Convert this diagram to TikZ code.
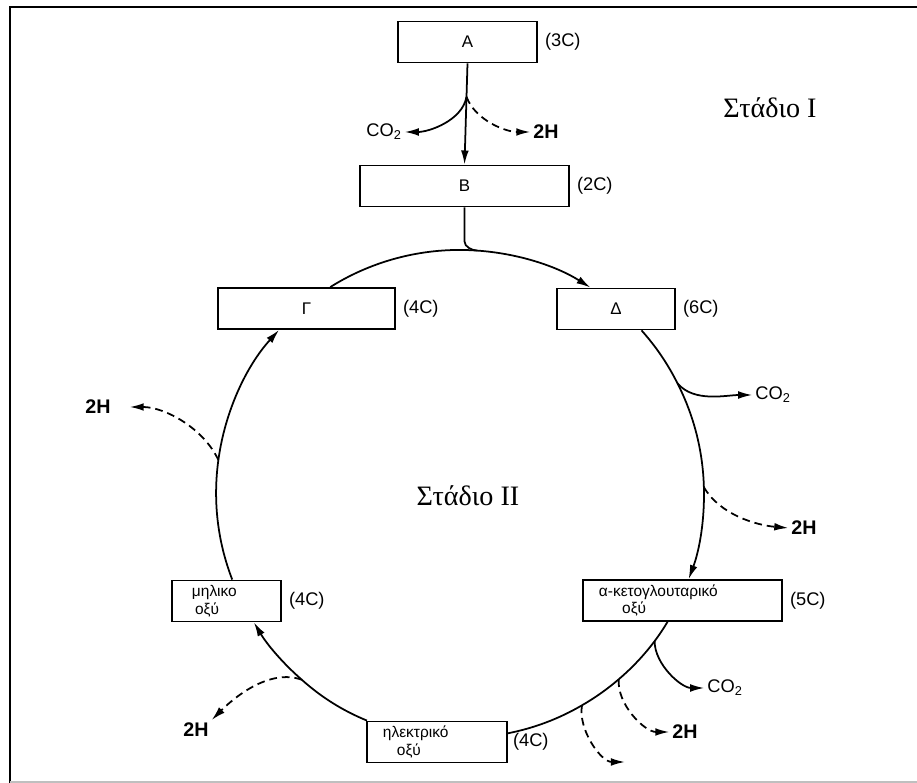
\documentclass[tikz,border=0pt]{standalone}
\usepackage{fontspec}
\setmainfont{Liberation Serif}
\newfontfamily\lsans{Liberation Sans}
\usetikzlibrary{arrows.meta,calc}

\begin{document}
\begin{tikzpicture}[
    x=0.025cm, y=0.025cm,
    box/.style={draw, line width=1.3pt, fill=white, minimum height=1.025cm, inner sep=1pt, font=\lsans\fontsize{12}{14}\selectfont},
    acid/.style={box, align=left, inner xsep=0.4cm, inner ysep=1pt, font=\lsans\fontsize{11}{12.5}\selectfont},
    carb/.style={font=\lsans\fontsize{13}{15}\selectfont, inner sep=2pt},
    prod/.style={font=\lsans\bfseries\fontsize{14}{16}\selectfont, inner sep=2pt},
    stage/.style={font=\fontsize{20}{24}\selectfont},
    flow/.style={line width=1.25pt, looseness=0.87},
    arr/.style={flow, -{Latex[length=10pt,width=5.5pt]}},
    darr/.style={arr, dash pattern=on 5.5pt off 3.5pt}
]
\useasboundingbox (0,0) rectangle (917,783);
\draw[line width=1.4pt] (10,0) -- (10,776) -- (917,776);
\draw[black!25, line width=0.8pt] (10,1) -- (917,1);

\node[box, minimum width=3.475cm] (A) at (467.5,741) {Α};
\node[box, minimum width=5.225cm] (B) at (464.5,597) {Β};
\node[box, minimum width=4.425cm] (G) at (306.5,474.5) {Γ};
\node[box, minimum width=2.95cm] (D) at (616,474) {Δ};
\node[acid, text width=4.175cm] (K) at (682.5,182.5) {α-κετογλουταρικό\\\hspace*{1.5em}οξύ};
\node[acid, text width=1.725cm, inner xsep=0.5cm] (M) at (226.5,182) {μηλικο\\\hspace*{0.2em}οξύ};
\node[acid, text width=2.7cm] (H) at (437,41) {ηλεκτρικό\\\hspace*{0.9em}οξύ};

\node[carb, anchor=west] (nA) at ([xshift=1mm]A.east) {(3C)};
\node[carb, anchor=west] (nB) at ([xshift=1mm]B.east) {(2C)};
\node[carb, anchor=west] (nG) at ([xshift=1mm]G.east) {(4C)};
\node[carb, anchor=west] (nD) at ([xshift=1mm]D.east) {(6C)};
\node[carb, anchor=west] (nK) at ([xshift=1mm]K.east) {(5C)};
\node[carb, anchor=west] (nM) at ([xshift=1mm]M.east) {(4C)};
\node[carb, anchor=west] (nH) at ([xshift=0.5mm]H.east) {(4C)};

\node[stage] (s1) at (770,675) {Στάδιο I};
\node[stage] (s2) at (468,287) {Στάδιο II};

\node[carb] (co2a) at (384,651) {CO\textsubscript{2}};
\node[prod] (h2a) at (546,651) {2H};
\node[carb] (co2b) at (773,388) {CO\textsubscript{2}};
\node[prod] (h2b) at (804,255) {2H};
\node[carb] (co2c) at (725,95) {CO\textsubscript{2}};
\node[prod] (h2c) at (685,51) {2H};
\node[prod] (h2d) at (196,53) {2H};
\node[prod] (h2e) at (98,376) {2H};

\coordinate (c) at (460,289);
\coordinate (q) at ($(A.south)!0.33!(B.north)$);
\coordinate (J) at ($(c)+(86:244)$);
\coordinate (p1) at ($(c)+(27:244)$);
\coordinate (p2) at ($(c)+(1.6:244)$);
\coordinate (p3) at ($(c)+(-37.1:244)$);
\coordinate (p4) at ($(c)+(-49.4:244)$);
\coordinate (p5) at ($(c)+(-60:244)$);
\coordinate (p6) at ($(c)+(-130.4:244)$);
\coordinate (p7) at ($(c)+(172:244)$);
\coordinate (e5) at (625,21);

\draw[arr] (A.south) -- (B.north);
\draw[arr] (q) to[out=-100,in=0] (co2a.east);
\draw[darr] (q) to[out=-70,in=180] (h2a.west);
\draw[flow] (B.south) -- ++(0,-34) to[out=-90,in=178] (J);

\draw[arr] (G.42) to[bend left=18.2] (J) to[bend left=14.2] (D.140);
\draw[arr] (D.-40) to[bend left=7.6] (p1) to[bend left=12.7] (p2) to[bend left=11.1] (K.74);
\draw[flow] (K.-125) to[bend left=2.9] (p3) to[bend left=6.2] (p4) to[bend left=5.3] (p5) to[bend left=9.5] (H.7);
\draw[arr] (H.163) to[bend left=9.8] (p6) to[bend left=9.1] (M.-38);
\draw[arr] (M.75) to[bend left=14.5] (p7) to[bend left=17.3] (G.218);

\draw[arr] (p1) to[out=-50,in=180] (co2b.west);
\draw[darr] (p2) to[out=-60,in=175] (h2b.west);
\draw[arr] (p3) to[out=-90,in=180] (co2c.west);
\draw[darr] (p4) to[out=-95,in=180] (h2c.west);
\draw[darr] (p5) to[out=-100,in=180] (e5);
\draw[darr] (p6) to[out=160,in=45] (h2d.north east);
\draw[darr] (p7) to[out=115,in=0] ([xshift=0.4cm]h2e.east);
\end{tikzpicture}
\end{document}
